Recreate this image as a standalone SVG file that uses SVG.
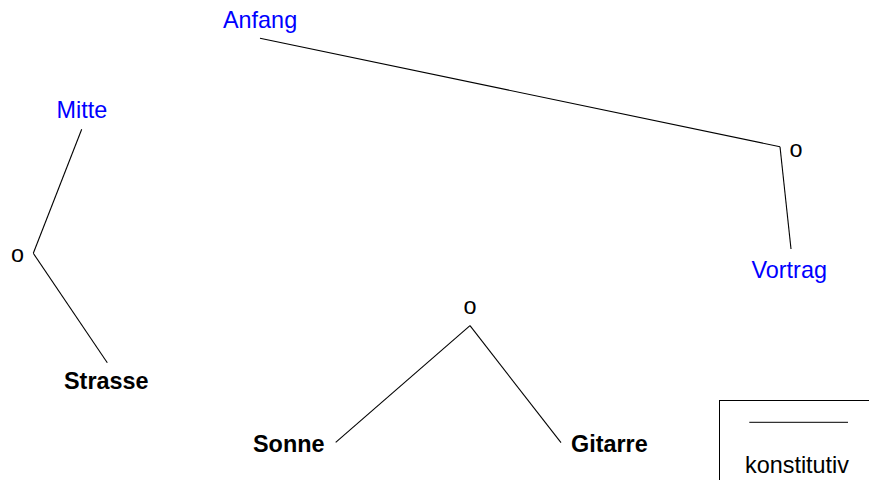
<svg xmlns="http://www.w3.org/2000/svg" width="869" height="480" viewBox="0 0 869 480">
<style>
text{font-family:"Liberation Sans",Arial,sans-serif;font-size:23.4px}
.c{fill:#0000ff}
.b{font-weight:bold;fill:#000}
.o{fill:#000}
.e{stroke:#000;stroke-width:1.1;fill:none}
</style>
<rect width="869" height="480" fill="#fff"/>
<g id="connectors">
<line class="e" x1="260" y1="38.3" x2="780" y2="146.7"/>
<line class="e" x1="780" y1="146.7" x2="791" y2="249"/>
<line class="e" x1="81.7" y1="129.3" x2="33.3" y2="253.3"/>
<line class="e" x1="33.3" y1="253.3" x2="107.3" y2="362.7"/>
<line class="e" x1="470" y1="325.7" x2="335.7" y2="442.3"/>
<line class="e" x1="470" y1="325.7" x2="561" y2="442.7"/>
</g>
<g id="n-anfang"><text class="c" x="223" y="27.5">Anfang</text></g>
<g id="n-mitte"><text class="c" x="56.5" y="118.3">Mitte</text></g>
<g id="n-o1"><text class="o" x="11" y="262.3">o</text></g>
<g id="n-strasse"><text class="b" x="64" y="389">Strasse</text></g>
<g id="n-o2"><text class="o" x="789.5" y="156.7">o</text></g>
<g id="n-vortrag"><text class="c" x="751.5" y="278.3">Vortrag</text></g>
<g id="n-o3"><text class="o" x="463.5" y="314.3">o</text></g>
<g id="n-sonne"><text class="b" x="253" y="451.7">Sonne</text></g>
<g id="n-gitarre"><text class="b" x="571" y="451.7">Gitarre</text></g>
<g id="legend">
<rect x="719.5" y="400.5" width="170" height="100" fill="none" stroke="#000" stroke-width="1"/>
<line x1="749.3" y1="422.3" x2="848" y2="422.3" stroke="#333" stroke-width="1.3"/>
<text class="o" x="745" y="472.5">konstitutiv</text>
</g>
</svg>
